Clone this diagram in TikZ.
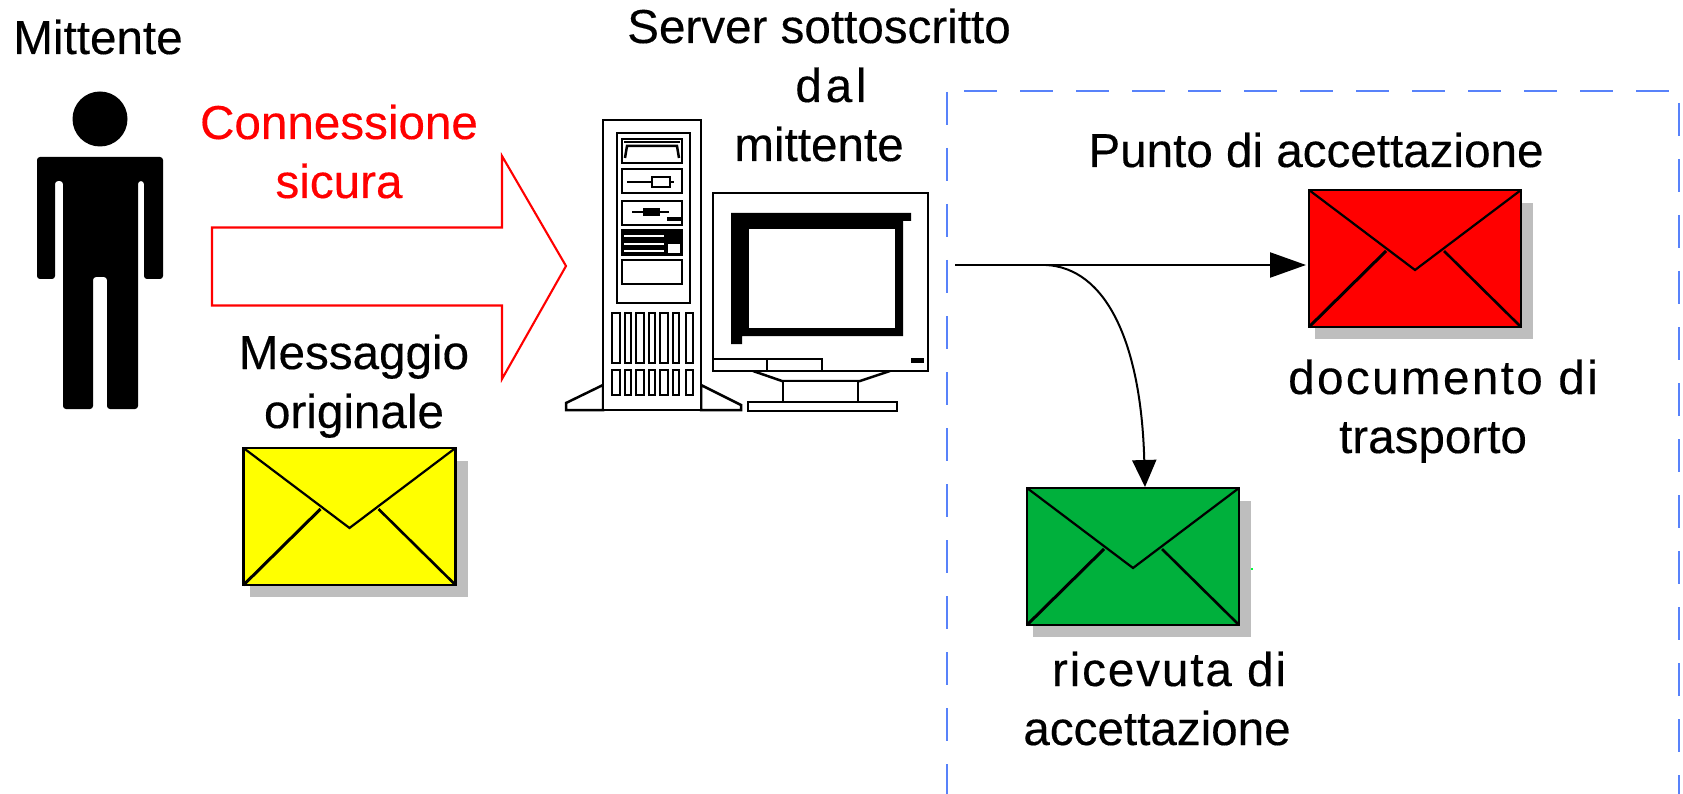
\documentclass[tikz,border=0pt]{standalone}
\usepackage{fontspec}
\setmainfont{Liberation Sans}
\usetikzlibrary{arrows.meta}
\definecolor{boxblue}{RGB}{88,130,250}
\definecolor{envgreen}{RGB}{0,176,60}
\definecolor{envyellow}{RGB}{255,255,0}
\definecolor{envred}{RGB}{255,0,0}
\definecolor{shadowgrey}{RGB}{190,190,190}
\definecolor{stray}{RGB}{0,255,60}
\tikzset{
  lbl/.style={inner sep=0pt,outer sep=0pt,align=center,anchor=base,text=black,font=\fontsize{47.6}{59}\selectfont\addfontfeatures{FakeBold=0.3}},
  envbox/.style={draw=black,line width=2.8pt,minimum width=212pt,minimum height=137pt,inner sep=0pt,outer sep=0pt},
  hw/.style={draw=black,line width=2.5pt,fill=white},
  hwl/.style={draw=black,line width=2.5pt},
  dashbox/.style={draw=boxblue,line width=2.7pt,dash pattern=on 33pt off 23pt},
  flow/.style={draw=black,line width=2.4pt,shorten >=3pt,-{Triangle[length=36pt,width=25pt]}},
  flowb/.style={draw=black,line width=2pt,-{Triangle[length=27pt,width=24pt]}},
}
\newcommand\envel[4]{%
  \begin{scope}[shift={(#3,#4)}]
    \fill[shadowgrey] (6,13) rectangle (224,149);
    \node[envbox,fill=#2,anchor=north west] (#1) at (0,0) {};
    \draw[black,line width=2.2pt] (0,0) -- (106,80) -- (212,0);
    \draw[black,line width=3pt] (0,137) -- (77,61);
    \draw[black,line width=2.6pt] (212,137) -- (135,61);
  \end{scope}}
\begin{document}
\begin{tikzpicture}[x=1pt,y=-1pt]
\useasboundingbox (0,0) rectangle (1683,794);
\fill[white] (0,0) rectangle (1683,794);

% dashed acceptance area
\draw[dashbox] (947,92) -- (947,794);
\draw[dashbox] (964,91) -- (1677,91);
\draw[dashbox] (1679,103) -- (1679,794);

% person
\fill[black] (100,119) circle (27.5);
\fill[black,rounded corners=3pt] (37,157) -- (163,157) -- (163,279) -- (144,279) -- (144,181) -- (138,181)
  -- (138,409) -- (107,409) -- (107,277) -- (93,277) -- (93,409) -- (63,409) -- (63,181) -- (55,181) -- (55,279) -- (37,279) -- cycle;

% secure-connection arrow
\draw[envred,line width=2.1pt] (212,227.5) -- (502,227.5) -- (502,156) -- (566,266) -- (502,379) -- (502,305.5) -- (212,305.5) -- cycle;

% tower
\draw[hw] (566,410) -- (566,403) -- (603,385) -- (603,410) -- cycle;
\draw[hw] (741,410) -- (741,405) -- (701,385) -- (701,410) -- cycle;
\draw[hw] (603,120) rectangle (701,410);
\draw[hw] (617,133) rectangle (690,303);
\draw[hw] (622,139) rectangle (682,163);
\draw[hwl] (624,142) -- (680,142);
\draw[hwl] (625,158) -- (627,146) -- (677,146) -- (679,158);
\draw[hw] (622,169) rectangle (682,193);
\draw[hwl] (627,182) -- (674,182);
\draw[hw] (652,177) rectangle (670,187);
\draw[hw] (622,201) rectangle (682,225);
\draw[hwl] (632,212) -- (669,212);
\fill[black] (643,208) rectangle (660,216);
\fill[black] (667,217) rectangle (682,221);
\draw[hw] (622,230) rectangle (682,255);
\fill[black] (622,230) rectangle (682,255);
\draw[white,line width=2.2pt] (624,236) -- (664,236) (624,244) -- (664,244) (624,251) -- (664,251);
\fill[white] (668,244) rectangle (680,253);
\draw[hw] (622,260) rectangle (682,284);
\foreach \a/\b in {612/620,625/631,636/644,649/655,660/668,673/679,686/693}{
  \draw[hw] (\a,313) rectangle (\b,363);
  \draw[hw] (\a,370) rectangle (\b,395);
}

% monitor
\draw[hw] (753,371) -- (782,381) -- (860,381) -- (890,371);
\draw[hw] (783,381) rectangle (858,402);
\draw[hw] (748,402) rectangle (897,411);
\draw[hw] (713,193) rectangle (928,371);
\draw[hwl] (713,359) -- (822,359) -- (822,371);
\draw[hwl] (767,359) -- (767,371);
\fill[black] (731,213) -- (911,213) -- (911,221) -- (903,221) -- (903,336) -- (742,336) -- (742,344) -- (731,344) -- cycle;
\fill[white] (749,229) rectangle (895,328);
\fill[black] (911,358) rectangle (924,363);

% envelopes
\envel{yellowenv}{envyellow}{243.5}{448}
\envel{redenv}{envred}{1309}{190}
\envel{greenenv}{envgreen}{1027}{488}
\fill[stray] (1251,568) rectangle (1253,570);

% connectors
\coordinate (outstart) at (955,265);
\coordinate (branch) at (1046,265);
\coordinate (gtip) at (1145,487);
\draw[flow] (outstart) -- (outstart -| redenv.west);
\draw[flowb] (branch) .. controls (1105,268) and (1141,340) .. (gtip);

% labels
\node[lbl] (lmitt) at (98,54) {Mittente};
\node[lbl,text=envred] (lconn) at (339,198) {Connessione\\sicura};
\node[lbl] (lmsg) at (354,428) {Messaggio\\originale};
\node[lbl] (lserv) at (819,161) {Server sottoscritto\\\hspace*{24pt}{\addfontfeatures{LetterSpace=8}dal}\\mittente};
\node[lbl] (lpunto) at (1316,167) {Punto di accettazione};
\node[lbl] (ldoc) at (1433,453) {\hspace*{20pt}{\addfontfeatures{LetterSpace=5}documento di}\\trasporto};
\node[lbl] (lric) at (1157,745) {\hspace*{24pt}{\addfontfeatures{LetterSpace=4}ricevuta di}\\accettazione};
\end{tikzpicture}
\end{document}
